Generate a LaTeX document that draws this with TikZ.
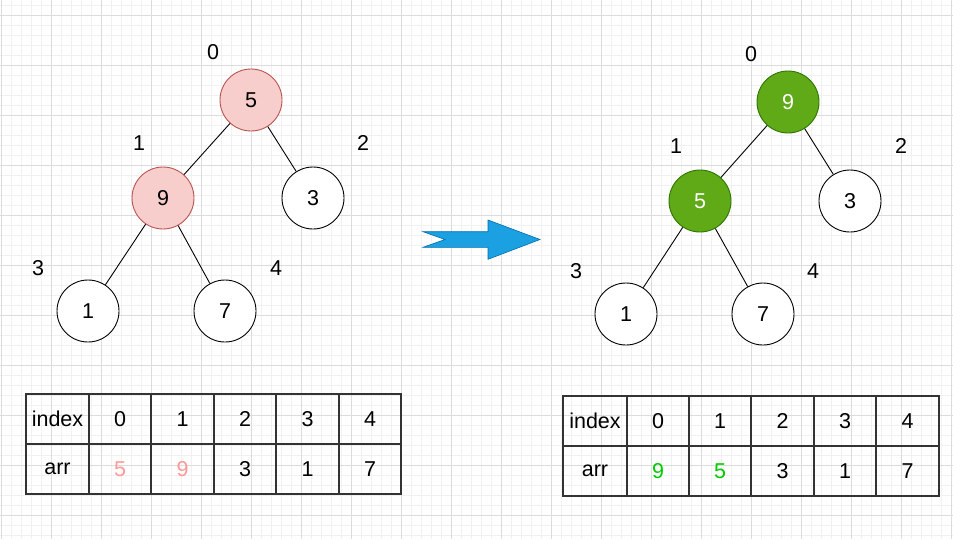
\documentclass[tikz,border=0pt]{standalone}
\usepackage{fontspec}
\setmainfont{Liberation Sans}
\definecolor{gridminor}{HTML}{F1F1F1}
\definecolor{gridmajor}{HTML}{DCDCDC}
\definecolor{pinkfill}{HTML}{F8CECC}
\definecolor{pinkline}{HTML}{B85450}
\definecolor{greenfill}{HTML}{60A917}
\definecolor{greenline}{HTML}{2D7600}
\definecolor{pinktext}{HTML}{FF9999}
\definecolor{greentext}{HTML}{00CC00}
\definecolor{arrowfill}{HTML}{1BA1E2}
\definecolor{arrowline}{HTML}{006EAF}
\definecolor{tabline}{HTML}{333333}
\begin{document}
\begin{tikzpicture}[x=1pt,y=-1pt,
  every node/.style={font=\fontsize{21.5}{24}\selectfont},
  heapnode/.style={circle,draw=black,fill=white,line width=0.9pt,minimum size=62pt,inner sep=0pt},
  pinknode/.style={heapnode,draw=pinkline,fill=pinkfill},
  greennode/.style={heapnode,draw=greenline,fill=greenfill,text=white},
  idxlabel/.style={inner sep=0pt},
  edge/.style={draw=black,line width=0.9pt},
  cell/.style={inner sep=0pt},
  tab/.style={draw=tabline,line width=1.6pt}
]
\useasboundingbox (0,0) rectangle (953,539);
\fill[white] (0,0) rectangle (953,539);
% grid
\foreach \i in {0,...,95} {\draw[gridminor,line width=0.6pt] ({1.7+10*\i},0) -- ({1.7+10*\i},539);}
\foreach \j in {0,...,53} {\draw[gridminor,line width=0.6pt] (0,{5+10*\j}) -- (953,{5+10*\j});}
\foreach \i in {0,...,19} {\draw[gridmajor,line width=0.7pt] ({1.7+50*\i},0) -- ({1.7+50*\i},539);}
\foreach \j in {0,...,10} {\draw[gridmajor,line width=0.7pt] (0,{15+50*\j}) -- (953,{15+50*\j});}

% left tree
\node[pinknode] (a0) at (251,100) {5};
\node[pinknode] (a1) at (163,198) {9};
\node[heapnode] (a2) at (313,198) {3};
\node[heapnode] (a3) at (88,311) {1};
\node[heapnode] (a4) at (225,311) {7};
\draw[edge] (a0) -- (a1);
\draw[edge] (a0) -- (a2);
\draw[edge] (a1) -- (a3);
\draw[edge] (a1) -- (a4);
\node[idxlabel] (al0) at (213,52) {0};
\node[idxlabel] (al1) at (139,143) {1};
\node[idxlabel] (al2) at (363,143) {2};
\node[idxlabel] (al3) at (38,268) {3};
\node[idxlabel] (al4) at (276,268) {4};

% right tree
\node[greennode] (b0) at (788,102) {9};
\node[greennode] (b1) at (700,201) {5};
\node[heapnode] (b2) at (850,201) {3};
\node[heapnode] (b3) at (626,314) {1};
\node[heapnode] (b4) at (763,314) {7};
\draw[edge] (b0) -- (b1);
\draw[edge] (b0) -- (b2);
\draw[edge] (b1) -- (b3);
\draw[edge] (b1) -- (b4);
\node[idxlabel] (bl0) at (751,54) {0};
\node[idxlabel] (bl1) at (676,146) {1};
\node[idxlabel] (bl2) at (901,146) {2};
\node[idxlabel] (bl3) at (576,271) {3};
\node[idxlabel] (bl4) at (813,271) {4};

% arrow
\draw[arrowline,fill=arrowfill,line width=0.6pt]
  (423,231.7) -- (488,231.7) -- (488,220) -- (540,239.5) -- (488,259.3)
  -- (488,247.3) -- (423,247.3) -- (445,239.5) -- cycle;

% left table
\draw[tab] (26,394) rectangle (401,494);
\draw[tab] (26,444) -- (401,444);
\foreach \x in {89,151,214,276,339} {\draw[tab] (\x,394) -- (\x,494);}
\node[cell] (lt00) at (57.5,419) {index};
\node[cell] (lt01) at (120,419) {0};
\node[cell] (lt02) at (182.5,419) {1};
\node[cell] (lt03) at (245,419) {2};
\node[cell] (lt04) at (307.5,419) {3};
\node[cell] (lt05) at (370,419) {4};
\node[cell] (lt10) at (57.5,469) {arr};
\node[cell,text=pinktext] (lt11) at (120,469) {5};
\node[cell,text=pinktext] (lt12) at (182.5,469) {9};
\node[cell] (lt13) at (245,469) {3};
\node[cell] (lt14) at (307.5,469) {1};
\node[cell] (lt15) at (370,469) {7};

% right table
\draw[tab] (563,396) rectangle (939,496);
\draw[tab] (563,446) -- (939,446);
\foreach \x in {627,689,751,814,876} {\draw[tab] (\x,396) -- (\x,496);}
\node[cell] (rt00) at (595,421) {index};
\node[cell] (rt01) at (658,421) {0};
\node[cell] (rt02) at (720,421) {1};
\node[cell] (rt03) at (782.5,421) {2};
\node[cell] (rt04) at (845,421) {3};
\node[cell] (rt05) at (907.5,421) {4};
\node[cell] (rt10) at (595,471) {arr};
\node[cell,text=greentext] (rt11) at (658,471) {9};
\node[cell,text=greentext] (rt12) at (720,471) {5};
\node[cell] (rt13) at (782.5,471) {3};
\node[cell] (rt14) at (845,471) {1};
\node[cell] (rt15) at (907.5,471) {7};
\end{tikzpicture}
\end{document}
